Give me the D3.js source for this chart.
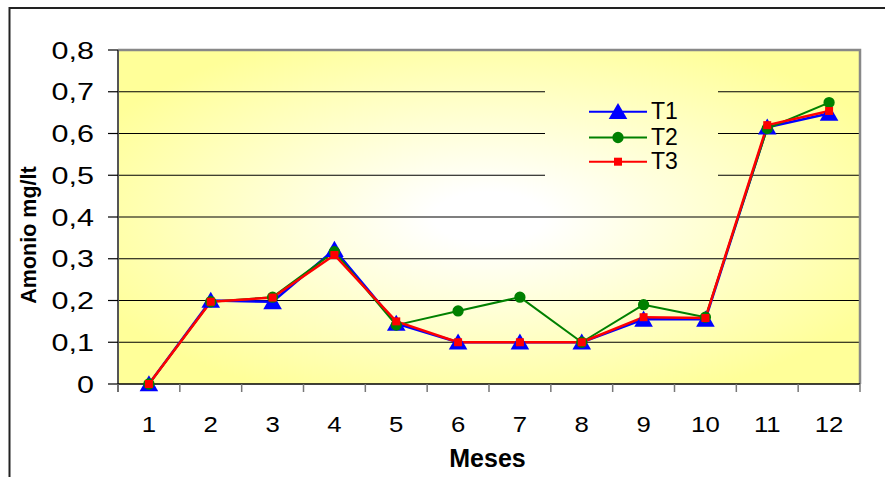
<!DOCTYPE html>
<html>
<head>
<meta charset="utf-8">
<script src="https://cdn.jsdelivr.net/npm/d3@7"></script>
<style>
  html, body { margin: 0; padding: 0; background: #fff; }
  svg { display: block; font-family: "Liberation Sans", Arial, sans-serif; }
</style>
</head>
<body>
<svg id="chart" width="885" height="477"></svg>
<script>
// Monthly ammonium readings (mg/lt) for three treatments
const months = [1, 2, 3, 4, 5, 6, 7, 8, 9, 10, 11, 12];
const t1 = [0, 0.2, 0.197, 0.322, 0.145, 0.1, 0.1, 0.1, 0.155, 0.155, 0.615, 0.648];
const t2 = [0, 0.197, 0.208, 0.317, 0.141, 0.175, 0.208, 0.1, 0.19, 0.16, 0.612, 0.674];
const t3 = [0, 0.197, 0.207, 0.309, 0.15, 0.1, 0.1, 0.1, 0.16, 0.158, 0.62, 0.654];
const seriesNames = ["T1", "T2", "T3"];
const yTicks = [0, 0.1, 0.2, 0.3, 0.4, 0.5, 0.6, 0.7, 0.8];
const yTitle = "Amonio mg/lt";
const xTitle = "Meses";

const series = [
  { name: seriesNames[0], values: t1, color: "#0000ff", width: 2.5, symbol: d3.symbolTriangle, size: 150 },
  { name: seriesNames[1], values: t2, color: "#008000", width: 2, symbol: d3.symbolCircle, size: 100 },
  { name: seriesNames[2], values: t3, color: "#ff0000", width: 2.5, symbol: d3.symbolSquare, size: 64 }
];

const svg = d3.select("#chart");
const plot = { left: 118, right: 860, top: 50, bottom: 384 };

const x = d3.scalePoint().domain(months).range([plot.left, plot.right]).padding(0.5);
const y = d3.scaleLinear().domain([0, 0.8]).range([plot.bottom, plot.top]);
const fmt = v => d3.format(".1f")(v).replace(".", ",").replace(/^0,0$/, "0");

// Outer chart frame (left and top edges)
svg.append("path")
  .attr("d", "M9.5,477 V8 H885")
  .attr("fill", "none").attr("stroke", "#222").attr("stroke-width", 2);

// Elliptical pale-yellow gradient behind the plot
const cx = (plot.left + plot.right) / 2, cy = (plot.top + plot.bottom) / 2;
const rx = (plot.right - plot.left) * 0.62, ry = (plot.bottom - plot.top) * 0.62;
const grad = svg.append("defs").append("radialGradient")
  .attr("id", "bg").attr("gradientUnits", "userSpaceOnUse")
  .attr("cx", cx).attr("cy", cy).attr("r", rx)
  .attr("gradientTransform", `translate(${cx},${cy}) scale(1,${ry / rx}) translate(${-cx},${-cy})`);
grad.append("stop").attr("offset", 0).attr("stop-color", "#ffffff");
grad.append("stop").attr("offset", 0.12).attr("stop-color", "#ffffff");
grad.append("stop").attr("offset", 0.95).attr("stop-color", "#ffff99");

svg.append("rect")
  .attr("x", plot.left).attr("y", plot.top)
  .attr("width", plot.right - plot.left).attr("height", plot.bottom - plot.top)
  .attr("fill", "url(#bg)");

// Horizontal gridlines
svg.append("g").selectAll("line").data(yTicks.filter(v => v > 0 && v < 0.8)).join("line")
  .attr("x1", plot.left).attr("x2", plot.right)
  .attr("y1", d => y(d)).attr("y2", d => y(d))
  .attr("stroke", "#000").attr("stroke-width", 1.2);

// Legend panel hides the gridlines behind it
const legendBox = { x: 545, y: 80, w: 173, h: 104 };
svg.append("rect")
  .attr("x", legendBox.x).attr("y", legendBox.y)
  .attr("width", legendBox.w).attr("height", legendBox.h)
  .attr("fill", "url(#bg)");

// Plot border (top and right), gray
svg.append("path")
  .attr("d", `M${plot.left},${plot.top} H${plot.right} V${plot.bottom}`)
  .attr("fill", "none").attr("stroke", "#888").attr("stroke-width", 2.5);

// Y axis
const yAxis = svg.append("g");
yAxis.append("line")
  .attr("x1", plot.left).attr("x2", plot.left)
  .attr("y1", plot.top).attr("y2", plot.bottom + 8)
  .attr("stroke", "#555").attr("stroke-width", 2);
yAxis.selectAll("line.tick").data(yTicks).join("line").attr("class", "tick")
  .attr("x1", plot.left - 10).attr("x2", plot.left)
  .attr("y1", d => y(d)).attr("y2", d => y(d))
  .attr("stroke", "#000").attr("stroke-width", 1.2);
yAxis.selectAll("text").data(yTicks).join("text")
  .attr("transform", d => `translate(94,${y(d) + 8.5}) scale(1.3,1)`)
  .attr("text-anchor", "end")
  .attr("font-size", 23.5)
  .attr("fill", "#000")
  .text(d => fmt(d));

// X axis
const xAxis = svg.append("g");
xAxis.append("line")
  .attr("x1", plot.left).attr("x2", plot.right)
  .attr("y1", plot.bottom).attr("y2", plot.bottom)
  .attr("stroke", "#000").attr("stroke-width", 1.5);
const bandEdges = months.map(m => x(m) - x.step() / 2).concat([plot.right]);
xAxis.selectAll("line.tick").data(bandEdges).join("line").attr("class", "tick")
  .attr("x1", d => d).attr("x2", d => d)
  .attr("y1", plot.bottom).attr("y2", plot.bottom + 8)
  .attr("stroke", "#777").attr("stroke-width", 1.5);
xAxis.selectAll("text").data(months).join("text")
  .attr("transform", d => `translate(${x(d)},431.5) scale(1.12,1)`)
  .attr("text-anchor", "middle")
  .attr("font-size", 23)
  .attr("fill", "#000")
  .text(d => d);

// Axis titles
svg.append("text")
  .attr("x", 487.5).attr("y", 467)
  .attr("text-anchor", "middle")
  .attr("font-size", 25).attr("font-weight", "bold")
  .text(xTitle);
svg.append("text")
  .attr("transform", "translate(36,235) rotate(-90)")
  .attr("text-anchor", "middle")
  .attr("font-size", 21.5).attr("font-weight", "bold")
  .text(yTitle);

// Series lines and markers
const line = d3.line().x((d, i) => x(months[i])).y(d => y(d));
series.forEach(s => {
  svg.append("path")
    .attr("d", line(s.values))
    .attr("fill", "none").attr("stroke", s.color)
    .attr("stroke-width", s.width).attr("stroke-linejoin", "round");
});
series.forEach(s => {
  svg.append("g").selectAll("path").data(s.values).join("path")
    .attr("transform", (d, i) => `translate(${x(months[i])},${y(d) + (s.symbol === d3.symbolTriangle ? 2 : 0)})`)
    .attr("d", d3.symbol().type(s.symbol).size(s.size))
    .attr("fill", s.color);
});

// Legend
const legendRows = [111.7, 137.5, 161.7];
series.forEach((s, i) => {
  const g = svg.append("g").attr("transform", `translate(0,${legendRows[i]})`);
  g.append("line").attr("x1", 589).attr("x2", 647).attr("y1", 0).attr("y2", 0)
    .attr("stroke", s.color).attr("stroke-width", 2);
  g.append("path").attr("transform", `translate(618,${s.symbol === d3.symbolTriangle ? 2 : 0})`)
    .attr("d", d3.symbol().type(s.symbol).size(s.size)).attr("fill", s.color);
  g.append("text").attr("x", 651).attr("y", 7.5)
    .attr("font-size", 23).attr("fill", "#000").text(s.name);
});
</script>
</body>
</html>
